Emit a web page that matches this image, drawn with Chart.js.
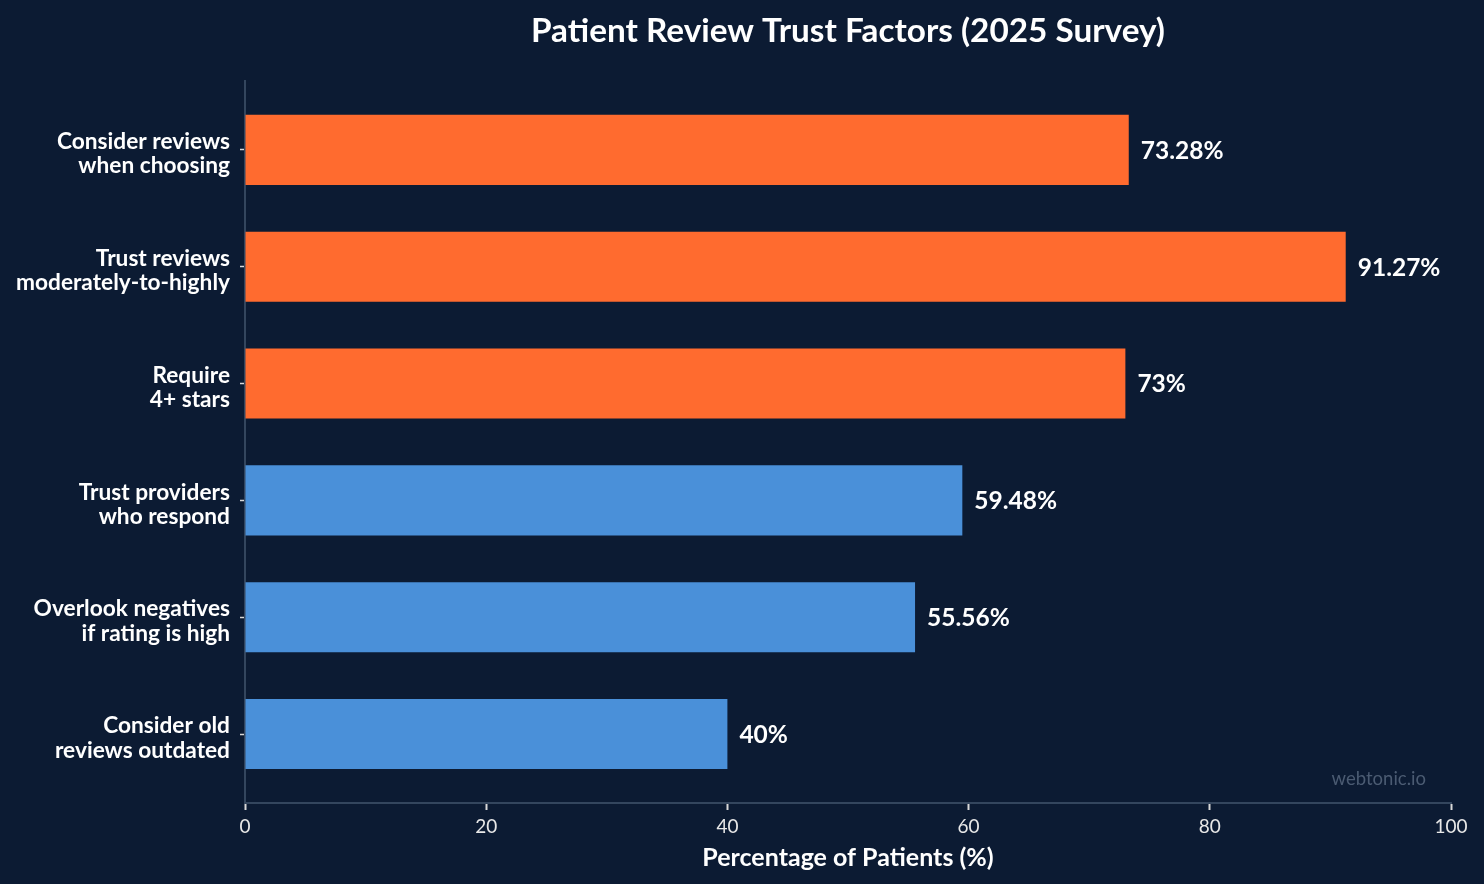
<!DOCTYPE html>
<html>
<head>
<meta charset="utf-8">
<script src="https://cdn.jsdelivr.net/npm/chart.js@4/dist/chart.umd.min.js"></script>
<style>
  html, body { margin: 0; padding: 0; background: #0c1b33; }
  #wrap { width: 1484px; height: 884px; }
</style>
</head>
<body>
<div id="wrap"><canvas id="c" width="1484" height="884"></canvas></div>
<script>
const categories = [
  ["Consider reviews", "when choosing"],
  ["Trust reviews", "moderately-to-highly"],
  ["Require", "4+ stars"],
  ["Trust providers", "who respond"],
  ["Overlook negatives", "if rating is high"],
  ["Consider old", "reviews outdated"]
];
const values = [73.28, 91.27, 73, 59.48, 55.56, 40];
const valueLabels = ["73.28%", "91.27%", "73%", "59.48%", "55.56%", "40%"];
const barColors = ["#ff6b2f", "#ff6b2f", "#ff6b2f", "#4a90d9", "#4a90d9", "#4a90d9"];
const xTicks = [0, 20, 40, 60, 80, 100];
const titleText = "Patient Review Trust Factors (2025 Survey)";
const xTitle = "Percentage of Patients (%)";
const watermark = "webtonic.io";

const FONT = "Lato, 'Noto Sans', sans-serif";

const labelPlugin = {
  id: 'valueLabels',
  afterDatasetsDraw(chart) {
    const ctx = chart.ctx;
    const meta = chart.getDatasetMeta(0);
    ctx.save();
    ctx.font = "bold 24.5px " + FONT;
    ctx.fillStyle = "#ffffff";
    ctx.textAlign = "left";
    ctx.textBaseline = "middle";
    meta.data.forEach((el, i) => {
      ctx.fillText(valueLabels[i], el.x + 12, el.y + 1);
    });
    ctx.restore();
  },
  afterDraw(chart) {
    const ctx = chart.ctx;
    const a = chart.chartArea;
    ctx.save();
    ctx.font = "18.5px " + FONT;
    ctx.fillStyle = "#4b5b72";
    ctx.textAlign = "right";
    ctx.textBaseline = "middle";
    ctx.fillText(watermark, a.right - 25, a.bottom - 24);
    ctx.restore();
  }
};

new Chart(document.getElementById('c'), {
  type: 'bar',
  data: {
    datasets: [{
      data: values.map((v, i) => ({ x: v, y: i })),
      backgroundColor: barColors,
      borderWidth: 0,
      barPercentage: 0.6,
      categoryPercentage: 1.0
    }]
  },
  options: {
    indexAxis: 'y',
    responsive: false,
    animation: false,
    layout: { padding: { left: 0, right: 33, top: 0, bottom: 14 } },
    plugins: {
      legend: { display: false },
      tooltip: { enabled: false },
      title: {
        display: true,
        text: titleText,
        fullSize: false,
        color: "#ffffff",
        font: { family: FONT, size: 33.3, weight: 'bold', lineHeight: 1.2 },
        padding: { top: 11, bottom: 30 }
      }
    },
    scales: {
      x: {
        type: 'linear',
        min: 0,
        max: 100,
        afterBuildTicks(scale) { scale.ticks = xTicks.map(v => ({ value: v })); },
        afterFit(scale) { scale.height = 67; },
        grid: { drawOnChartArea: false, tickLength: 7, tickColor: "#d9d9d9", tickWidth: 2 },
        border: { color: "#34465e", width: 2 },
        ticks: { color: "#e8e8e8", font: { family: FONT, size: 19 }, padding: 5 },
        title: {
          display: true,
          text: xTitle,
          color: "#ffffff",
          font: { family: FONT, size: 25, weight: 'bold', lineHeight: 1.0 },
          padding: { top: 7, bottom: 0 }
        }
      },
      y: {
        type: 'linear',
        reverse: true,
        offset: false,
        min: -0.59,
        max: 5.59,
        afterBuildTicks(scale) { scale.ticks = categories.map((c, i) => ({ value: i })); },
        afterFit(scale) { scale.width = 245; },
        grid: { offset: false, drawOnChartArea: false, tickLength: 5, tickColor: "#d9d9d9", tickWidth: 1.5 },
        border: { color: "#34465e", width: 2 },
        ticks: {
          color: "#ffffff",
          font: { family: FONT, size: 22.7, weight: 'bold', lineHeight: 1.07 },
          padding: 10,
          labelOffset: 4,
          callback: (v) => categories[v] || ''
        }
      }
    }
  },
  plugins: [labelPlugin]
});
</script>
</body>
</html>
